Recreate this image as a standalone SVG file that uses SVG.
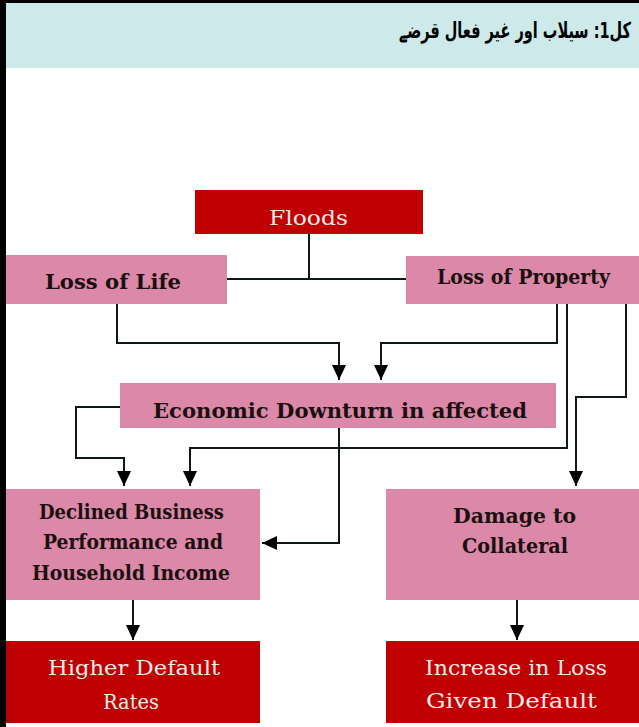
<svg xmlns="http://www.w3.org/2000/svg" width="639" height="727" viewBox="0 0 639 727">
  <style>
    .pink { fill: #dc88a8; }
    .red { fill: #c00000; }
    .tb { font-family: "DejaVu Serif", "Liberation Serif", serif; font-weight: bold; font-size: 21px; fill: #1a1010; text-anchor: middle; }
    .tw { font-family: "DejaVu Serif", "Liberation Serif", serif; font-size: 21px; fill: #fbeaea; text-anchor: middle; }
    .conn path { fill: none; stroke: #101814; stroke-width: 2; }
  </style>
  <defs>
    <marker id="arr" markerUnits="userSpaceOnUse" markerWidth="16" markerHeight="16" viewBox="0 0 16 16" refX="15" refY="8" orient="auto">
      <path d="M0,1 L15,8 L0,15 Z" fill="#000"/>
    </marker>
  </defs>
  <rect x="0" y="0" width="639" height="727" fill="#ffffff"/>
  <g id="header">
    <rect x="6" y="3" width="633" height="65" fill="#cde9e9"/>
    <text transform="translate(631,38) scale(0.66,1)" x="0" y="0" font-family="DejaVu Sans, Noto Sans, sans-serif" font-weight="bold" font-size="22" text-anchor="end" fill="#000">کل1: سیلاب اور غیر فعال قرضے</text>
  </g>
  <rect x="0" y="0" width="639" height="3" fill="#000"/>
  <rect x="0" y="0" width="6" height="727" fill="#000"/>

  <g class="conn" id="connectors">
    <path d="M309,234 V279 M227,279 H406"/>
    <path d="M117,304 V343 H339 V380" marker-end="url(#arr)"/>
    <path d="M557,304 V343 H381 V380" marker-end="url(#arr)"/>
    <path d="M567,304 V448 H190 V486" marker-end="url(#arr)"/>
    <path d="M626,304 V397 H576 V486" marker-end="url(#arr)"/>
    <path d="M120,407 H76 V458 H124 V486" marker-end="url(#arr)"/>
    <path d="M339,428 V543 H262" marker-end="url(#arr)"/>
    <path d="M133,600 V640" marker-end="url(#arr)"/>
    <path d="M517,600 V640" marker-end="url(#arr)"/>
  </g>

  <g id="floods">
    <rect class="red" x="195" y="190" width="228" height="44"/>
    <text class="tw" x="308.5" y="225" textLength="79" lengthAdjust="spacingAndGlyphs">Floods</text>
  </g>
  <g id="loss-of-life">
    <rect class="pink" x="6" y="255" width="221" height="49"/>
    <text class="tb" x="113" y="289" textLength="136" lengthAdjust="spacingAndGlyphs">Loss of Life</text>
  </g>
  <g id="loss-of-property">
    <rect class="pink" x="406" y="256" width="233" height="48"/>
    <text class="tb" x="523.5" y="284" textLength="173" lengthAdjust="spacingAndGlyphs">Loss of Property</text>
  </g>
  <g id="economic-downturn">
    <rect class="pink" x="120" y="383" width="436" height="45"/>
    <text class="tb" x="340" y="418" textLength="374" lengthAdjust="spacingAndGlyphs">Economic Downturn in affected</text>
  </g>
  <g id="declined-business">
    <rect class="pink" x="6" y="489" width="254" height="111"/>
    <text class="tb" x="131.5" y="519" textLength="185" lengthAdjust="spacingAndGlyphs">Declined Business</text>
    <text class="tb" x="133" y="549" textLength="180" lengthAdjust="spacingAndGlyphs">Performance and</text>
    <text class="tb" x="131" y="580" textLength="198" lengthAdjust="spacingAndGlyphs">Household Income</text>
  </g>
  <g id="damage-to-collateral">
    <rect class="pink" x="386" y="489" width="253" height="111"/>
    <text class="tb" x="514.5" y="523" textLength="123" lengthAdjust="spacingAndGlyphs">Damage to</text>
    <text class="tb" x="515" y="553" textLength="106" lengthAdjust="spacingAndGlyphs">Collateral</text>
  </g>
  <g id="higher-default-rates">
    <rect class="red" x="6" y="641" width="254" height="82"/>
    <text class="tw" x="134" y="675" textLength="172" lengthAdjust="spacingAndGlyphs">Higher Default</text>
    <text class="tw" x="131" y="709" textLength="56" lengthAdjust="spacingAndGlyphs">Rates</text>
  </g>
  <g id="increase-in-loss">
    <rect class="red" x="386" y="641" width="253" height="82"/>
    <text class="tw" x="516" y="675" textLength="182" lengthAdjust="spacingAndGlyphs">Increase in Loss</text>
    <text class="tw" x="511.5" y="708" textLength="171" lengthAdjust="spacingAndGlyphs">Given Default</text>
  </g>
</svg>
